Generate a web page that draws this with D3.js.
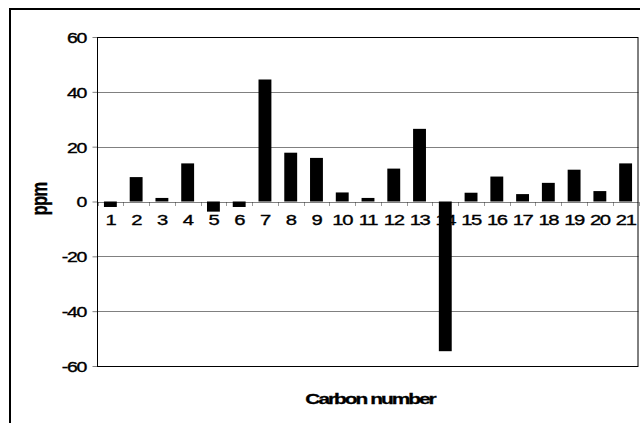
<!DOCTYPE html>
<html>
<head>
<meta charset="utf-8">
<script src="https://d3js.org/d3.v7.min.js"></script>
<style>
  body { margin: 0; background: #fff; }
  text { font-family: "Liberation Sans", Arial, sans-serif; fill: #000; }
</style>
</head>
<body>
<div id="chart"></div>
<script>
// chart data
var carbons = ["1","2","3","4","5","6","7","8","9","10","11","12","13","14","15","16","17","18","19","20","21"];
var ppmValues = [-2.0, 8.9, 1.3, 13.9, -3.7, -2.0, 44.5, 17.8, 15.9, 3.3, 1.3, 12.0, 26.5, -54.6, 3.2, 9.1, 2.7, 6.8, 11.6, 3.8, 13.9];
var yTicks = [-60, -40, -20, 0, 20, 40, 60];
var gridTicks = [-40, -20, 20, 40];

var width = 640, height = 423;
var plot = {left: 97.5, right: 638.5, top: 37, bottom: 366};

var svg = d3.select("#chart").append("svg")
  .attr("width", width)
  .attr("height", height);

// outer chart frame (runs off the right and bottom edges)
svg.append("rect")
  .attr("x", 10).attr("y", 9)
  .attr("width", 660).attr("height", 440)
  .attr("fill", "#fff")
  .attr("stroke", "#000")
  .attr("stroke-width", 2);

var xs = d3.scaleBand().domain(carbons).range([plot.left, plot.right])
  .paddingInner(0.5).paddingOuter(0.25);
var ys = d3.scaleLinear().domain([-60, 60]).range([plot.bottom, plot.top]);

// gridlines
svg.append("g").selectAll("line")
  .data(gridTicks)
  .enter().append("line")
  .attr("x1", plot.left).attr("x2", plot.right)
  .attr("y1", function(d) { return Math.round(ys(d)) + 0.5; })
  .attr("y2", function(d) { return Math.round(ys(d)) + 0.5; })
  .attr("stroke", "#808080")
  .attr("stroke-width", 1);

// y axis
var yAxis = svg.append("g")
  .attr("transform", "translate(" + plot.left + ",0)")
  .call(d3.axisLeft(ys).tickValues(yTicks).tickSize(5).tickFormat(function(d) { return String(d); }));
yAxis.select(".domain").remove();
yAxis.selectAll(".tick line").attr("stroke", "#808080");
yAxis.selectAll(".tick text")
  .attr("x", 0).attr("dy", "0.36em")
  .attr("transform", "translate(-11.5,0) scale(1.3,1)")
  .style("font-size", "15px")
  .style("letter-spacing", "-1px")
  .style("stroke", "#000")
  .style("stroke-width", "0.35px")
  .style("font-family", "'Liberation Sans', Arial, sans-serif");

// zero line
var y0 = Math.round(ys(0)) + 0.5;
svg.append("line")
  .attr("x1", plot.left).attr("x2", plot.right)
  .attr("y1", y0).attr("y2", y0)
  .attr("stroke", "#808080");

// category boundary ticks on the zero line
var halfGap = (xs.step() - xs.bandwidth()) / 2;
var edges = carbons.map(function(c) { return xs(c) - halfGap; });
edges.push(xs(carbons[carbons.length - 1]) + xs.bandwidth() + halfGap);
svg.append("g").selectAll("line")
  .data(edges)
  .enter().append("line")
  .attr("x1", function(d) { return Math.round(d) + 0.5; })
  .attr("x2", function(d) { return Math.round(d) + 0.5; })
  .attr("y1", y0).attr("y2", y0 + 4)
  .attr("stroke", "#333")
  .attr("stroke-dasharray", "1,1");

// x axis labels (drawn under the bars)
var xAxis = svg.append("g")
  .attr("transform", "translate(0," + ys(0) + ")")
  .call(d3.axisBottom(xs).tickSize(0));
xAxis.select(".domain").remove();
xAxis.selectAll(".tick text")
  .attr("y", 0).attr("dy", 0)
  .attr("transform", "translate(0,23.5) scale(1.35,1)")
  .style("font-size", "15px")
  .style("letter-spacing", "-1px")
  .style("stroke", "#000")
  .style("stroke-width", "0.35px")
  .style("font-family", "'Liberation Sans', Arial, sans-serif");

// bars
svg.append("g").selectAll("rect")
  .data(ppmValues)
  .enter().append("rect")
  .attr("x", function(d, i) { return xs(carbons[i]); })
  .attr("width", xs.bandwidth())
  .attr("y", function(d) { return ys(Math.max(d, 0)); })
  .attr("height", function(d) { return Math.abs(ys(d) - ys(0)); })
  .attr("fill", "#000");

// plot area border
svg.append("rect")
  .attr("x", plot.left).attr("y", plot.top + 0.5)
  .attr("width", plot.right - plot.left - 0.5)
  .attr("height", plot.bottom - plot.top)
  .attr("fill", "none")
  .attr("stroke", "#000")
  .attr("stroke-width", 1);

// axis titles
svg.append("text")
  .attr("transform", "translate(47,199) rotate(-90) scale(1.05,1.35)")
  .attr("text-anchor", "middle")
  .style("font-size", "16px")
  .style("font-weight", "bold")
  .style("letter-spacing", "-0.8px")
  .style("stroke", "#000")
  .style("stroke-width", "0.3px")
  .text("ppm");

svg.append("text")
  .attr("transform", "translate(370,404) scale(1.35,1)")
  .attr("text-anchor", "middle")
  .style("font-size", "15.5px")
  .style("font-weight", "bold")
  .style("letter-spacing", "-1.5px")
  .style("stroke", "#000")
  .style("stroke-width", "0.3px")
  .text("Carbon number");
</script>
</body>
</html>
